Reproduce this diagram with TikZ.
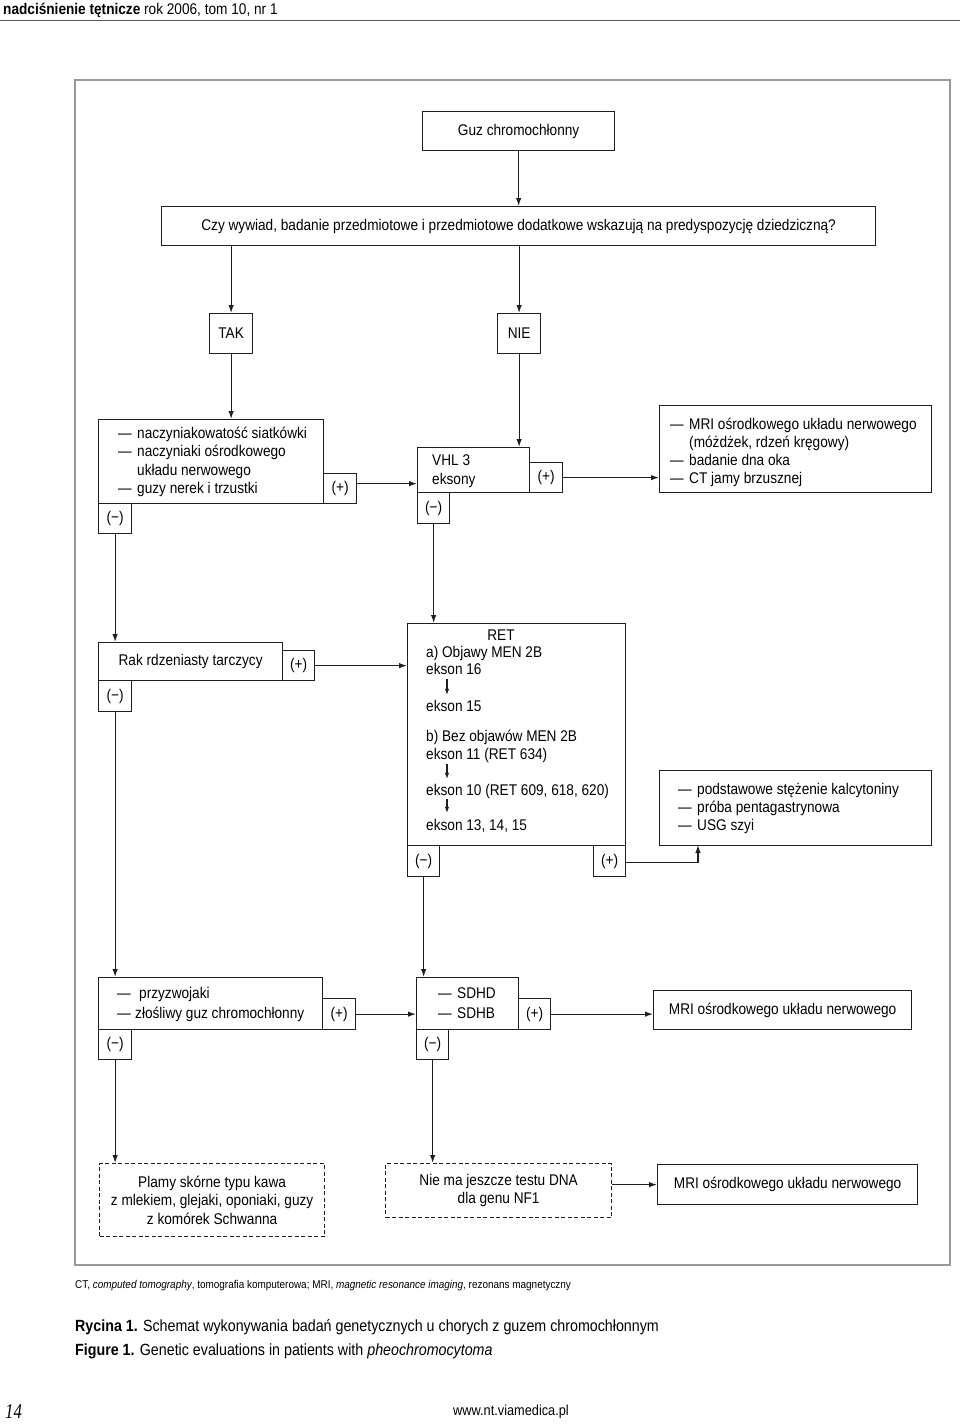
\documentclass[tikz,border=0pt]{standalone}
\usepackage{fontspec}
\setmainfont{Liberation Sans}[FakeStretch=0.88]
\newfontfamily\pagefont{Liberation Serif}[FakeStretch=0.8]
\usetikzlibrary{arrows.meta,calc}
\newcommand\dsh{\makebox[19pt][l]{—}}
\newcommand\tline[4]{\node[txt] (#1) at (#2,#3) {#4};}
\begin{document}
\begin{tikzpicture}[x=1pt,y=-1pt,
  box/.style={draw=black!88, line width=1.25pt, inner sep=0pt, anchor=north west, align=center,
    font=\fontsize{15.5}{18.3}\selectfont},
  dbox/.style={box, dash pattern=on 4pt off 2.5pt},
  tag/.style={box},
  txt/.style={inner sep=0pt, anchor=base west, font=\fontsize{15.5}{18}\selectfont, text height=11pt, text depth=3pt},
  arr/.style={-{Latex[length=8pt,width=5.5pt]}, line width=1.25pt, draw=black!88},
  sarr/.style={-{Latex[length=6pt,width=4.5pt]}, line width=1.1pt, draw=black!88}]
\useasboundingbox (0,0) rectangle (960,1427);
% header
\node[txt, font=\fontsize{15.5}{17}\selectfont] (hdr) at (3,14) {\textbf{nadciśnienie tętnicze} rok 2006, tom 10, nr 1};
\draw[black!65, line width=1pt] (0,20.5) -- (960,20.5);
% frame
\draw[black!40, line width=1.6pt] (75,80) rectangle (950,1265);
% boxes
\node[box, minimum width=192, minimum height=39] (guz) at (422,111) {Guz chromochłonny};
\node[box, minimum width=714, minimum height=39] (q) at (161,206) {Czy wywiad, badanie przedmiotowe i przedmiotowe dodatkowe wskazują na predyspozycję dziedziczną?};
\node[box, minimum width=43, minimum height=40] (tak) at (209,313) {TAK};
\node[box, minimum width=43, minimum height=40] (nie) at (497,313) {NIE};
\node[box, minimum width=225, minimum height=84] (lbox) at (98,419) {};
\node[tag, minimum width=33, minimum height=30] (lplus) at (323,473) {(+)};
\node[tag, minimum width=33, minimum height=30] (lminus) at (98,503) {(−)};
\node[box, minimum width=112, minimum height=45] (vhl) at (417,447) {};
\node[tag, minimum width=33, minimum height=30] (vplus) at (529,462) {(+)};
\node[tag, minimum width=32, minimum height=31] (vminus) at (417,492) {(−)};
\node[box, minimum width=272, minimum height=87] (mri1) at (659,405) {};
\node[box, minimum width=184, minimum height=38] (rak) at (98,642) {Rak rdzeniasty tarczycy};
\node[tag, minimum width=32, minimum height=30] (rplus) at (282,650) {(+)};
\node[tag, minimum width=33, minimum height=31] (rminus) at (98,680) {(−)};
\node[box, minimum width=218, minimum height=222] (ret) at (407,623) {};
\node[tag, minimum width=32, minimum height=31] (retminus) at (407,845) {(−)};
\node[tag, minimum width=32, minimum height=31] (retplus) at (593,845) {(+)};
\node[box, minimum width=272, minimum height=75] (usg) at (659,770) {};
\node[box, minimum width=224, minimum height=52] (przy) at (98,977) {};
\node[tag, minimum width=33, minimum height=31] (pplus) at (322,998) {(+)};
\node[tag, minimum width=33, minimum height=30] (pminus) at (98,1029) {(−)};
\node[box, minimum width=102, minimum height=52] (sdh) at (416,977) {};
\node[tag, minimum width=32, minimum height=31] (splus) at (518,998) {(+)};
\node[tag, minimum width=32, minimum height=30] (sminus) at (416,1029) {(−)};
\node[box, minimum width=258, minimum height=39] (mri2) at (653,990) {MRI ośrodkowego układu nerwowego};
\node[dbox, minimum width=225, minimum height=73] (d1) at (99,1163) {Plamy skórne typu kawa\\z mlekiem, glejaki, oponiaki, guzy\\z komórek Schwanna};
\node[dbox, minimum width=226, minimum height=54] (d2) at (385,1163) {Nie ma jeszcze testu DNA\\dla genu NF1};
\node[box, minimum width=260, minimum height=40] (mri3) at (657,1164) {MRI ośrodkowego układu nerwowego};
% texts in list boxes
\tline{l1}{118}{438}{\dsh naczyniakowatość siatkówki}
\tline{l2}{118}{456}{\dsh naczyniaki ośrodkowego}
\tline{l3}{137}{475}{układu nerwowego}
\tline{l4}{118}{493}{\dsh guzy nerek i trzustki}
\tline{v1}{432}{465}{VHL 3}
\tline{v2}{432}{484}{eksony}
\tline{m1}{670}{429}{\dsh MRI ośrodkowego układu nerwowego}
\tline{m2}{689}{447}{(móżdżek, rdzeń kręgowy)}
\tline{m3}{670}{465}{\dsh badanie dna oka}
\tline{m4}{670}{483}{\dsh CT jamy brzusznej}
\node[txt, anchor=base] (rt) at (501,640) {RET};
\tline{ra}{426}{657}{a) Objawy MEN 2B}
\tline{e16}{426}{674}{ekson 16}
\tline{e15}{426}{711}{ekson 15}
\tline{rb}{426}{741}{b) Bez objawów MEN 2B}
\tline{e11}{426}{759}{ekson 11 (RET 634)}
\tline{e10}{426}{795}{ekson 10 (RET 609, 618, 620)}
\tline{e13}{426}{830}{ekson 13, 14, 15}
\tline{u1}{678}{794}{\dsh podstawowe stężenie kalcytoniny}
\tline{u2}{678}{812}{\dsh próba pentagastrynowa}
\tline{u3}{678}{830}{\dsh USG szyi}
\tline{p1}{117}{998}{\makebox[22pt][l]{—}przyzwojaki}
\tline{p2}{117}{1018}{\makebox[18pt][l]{—}złośliwy guz chromochłonny}
\tline{s1}{438}{998}{\dsh SDHD}
\tline{s2}{438}{1018}{\dsh SDHB}
% small arrows in RET box
\draw[sarr] ($(e16.south west)+(21,2)$) -- ($(e15.north west)+(21,-5)$);
\draw[sarr] ($(e11.south west)+(21,2)$) -- ($(e10.north west)+(21,-5)$);
\draw[sarr] ($(e10.south west)+(21,1)$) -- ($(e13.north west)+(21,-6)$);
% connectors
\draw[arr] (guz.south) -- (guz.south |- q.north);
\draw[arr] (q.south -| tak.north) -- (tak.north);
\draw[arr] (q.south -| nie.north) -- (nie.north);
\draw[arr] (tak.south) -- (tak.south |- lbox.north);
\draw[arr] (nie.south) -- (nie.south |- vhl.north);
\draw[arr] ([yshift=5pt]lplus.east) -- ([yshift=5pt]lplus.east -| vhl.west);
\draw[arr] (vplus.east) -- (vplus.east -| mri1.west);
\draw[arr] (lminus.south) -- (lminus.south |- rak.north);
\draw[arr] (vminus.south) -- (vminus.south |- ret.north);
\draw[arr] (rplus.east) -- (rplus.east -| ret.west);
\draw[arr] (rminus.south) -- (rminus.south |- przy.north);
\draw[arr] (retminus.south) -- (retminus.south |- sdh.north);
\coordinate (usgin) at (698,845);
\draw[arr] ([yshift=-1pt]retplus.east) -| (usgin);
\draw[arr] (pplus.east) -- (pplus.east -| sdh.west);
\draw[arr] (splus.east) -- (splus.east -| mri2.west);
\draw[arr] (pminus.south) -- (pminus.south |- d1.north);
\draw[arr] (sminus.south) -- (sminus.south |- d2.north);
\draw[arr] (d2.east |- mri3.west) -- (mri3.west);
% captions
\node[txt, font=\fontsize{11.3}{13}\selectfont] (abbr) at (75,1288) {CT, \textit{computed tomography}, tomografia komputerowa; MRI, \textit{magnetic resonance imaging}, rezonans magnetyczny};
\node[txt, font=\fontsize{16.2}{18}\selectfont] (ryc) at (75,1331) {\textbf{Rycina 1.} Schemat wykonywania badań genetycznych u chorych z guzem chromochłonnym};
\node[txt, font=\fontsize{16.2}{18}\selectfont] (fig) at (75,1355) {\textbf{Figure 1.} Genetic evaluations in patients with \textit{pheochromocytoma}};
% footer
\node[txt, font=\pagefont\itshape\fontsize{21}{23}\selectfont] (pg) at (5,1418) {14};
\node[txt, anchor=base, font=\fontsize{14.5}{16}\selectfont] (www) at (511,1415) {www.nt.viamedica.pl};
\end{tikzpicture}
\end{document}
